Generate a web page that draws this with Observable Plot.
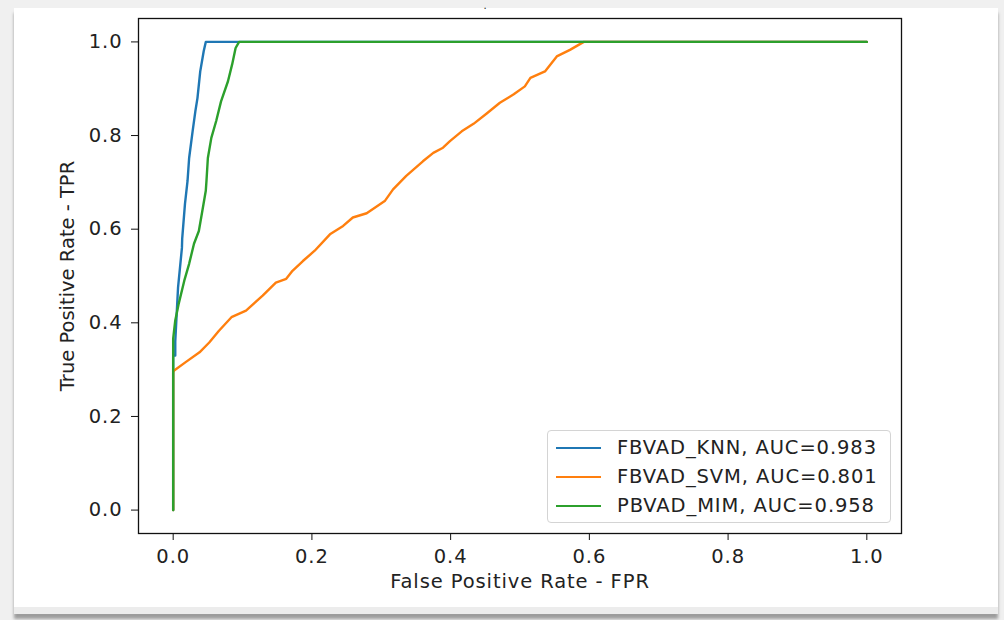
<!DOCTYPE html>
<html>
<head>
<meta charset="utf-8">
<script src="https://cdn.jsdelivr.net/npm/d3@7"></script>
<script src="https://cdn.jsdelivr.net/npm/@observablehq/plot@0.6"></script>
<style>
  html, body { margin: 0; padding: 0; }
  body { width: 1004px; height: 620px; background: #f0f0f0; position: relative; overflow: hidden; font-family: "DejaVu Sans", sans-serif; }
  #shadow { position: absolute; left: 14px; top: 8px; width: 984px; height: 606px; background: #ececec; box-shadow: 0 5px 3px rgba(0,0,0,0.35); }
  #card { position: absolute; left: 14px; top: 8px; width: 984px; height: 599px; background: #fff; }
  #chart { position: absolute; left: 0; top: 0; }
  #title { position: absolute; left: 0; width: 970px; top: 1px; text-align: center; font-size: 10px; line-height: 1; color: #222; }
  #legend { position: absolute; left: 547px; top: 430px; width: 342px; height: 91px; border: 1px solid #d4d4d4; border-radius: 4px; background: rgba(255,255,255,0.85); box-sizing: content-box; }
  .row { position: absolute; left: 0; height: 29px; width: 100%; }
  .sw { position: absolute; left: 8px; width: 45px; height: 2.3px; top: 13.5px; }
  .lt { position: absolute; left: 69px; top: 3px; font-size: 19.5px; letter-spacing: 0.9px; color: #222; line-height: 1.2; white-space: nowrap; }
</style>
</head>
<body>
<div id="shadow"></div>
<div id="card"></div>
<div id="chart"></div>
<div id="title">.</div>
<div id="legend"></div>
<script>
// ---- data ----
const seriesNames = ["FBVAD_KNN, AUC=0.983", "FBVAD_SVM, AUC=0.801", "PBVAD_MIM, AUC=0.958"];
const seriesColors = ["#1f77b4", "#ff7f0e", "#2ca02c"];

const knnFPR = [0, 0, 0.003, 0.003, 0.007, 0.0126, 0.013, 0.017, 0.0207, 0.023, 0.028, 0.032, 0.035, 0.039, 0.044, 0.047, 1];
const knnTPR = [0, 0.33, 0.33, 0.36, 0.475, 0.56, 0.58, 0.654, 0.703, 0.752, 0.809, 0.852, 0.880, 0.937, 0.98, 1.0, 1.0];

const svmFPR = [0, 0, 0.0014, 0.018, 0.038, 0.052, 0.066, 0.084, 0.105, 0.129, 0.148, 0.163, 0.172, 0.187, 0.204, 0.226, 0.245, 0.259, 0.279, 0.305, 0.317, 0.336, 0.360, 0.375, 0.389, 0.399, 0.416, 0.433, 0.452, 0.471, 0.491, 0.507, 0.515, 0.536, 0.553, 0.572, 0.592, 1];
const svmTPR = [0, 0.295, 0.298, 0.316, 0.337, 0.358, 0.383, 0.412, 0.426, 0.458, 0.486, 0.494, 0.511, 0.532, 0.554, 0.589, 0.607, 0.625, 0.634, 0.660, 0.685, 0.714, 0.745, 0.763, 0.774, 0.788, 0.809, 0.825, 0.847, 0.870, 0.888, 0.905, 0.923, 0.937, 0.969, 0.983, 1.0, 1.0];

const mimFPR = [0, 0, 0.003, 0.008, 0.016, 0.023, 0.030, 0.037, 0.042, 0.047, 0.048, 0.050, 0.055, 0.062, 0.069, 0.079, 0.085, 0.090, 0.095, 1];
const mimTPR = [0, 0.366, 0.405, 0.441, 0.49, 0.526, 0.569, 0.596, 0.639, 0.682, 0.703, 0.752, 0.795, 0.831, 0.873, 0.916, 0.952, 0.987, 1.0, 1.0];

const axisTicks = [0, 0.2, 0.4, 0.6, 0.8, 1.0];
const xLabel = "False Positive Rate - FPR";
const yLabel = "True Positive Rate - TPR";

// ---- build tables ----
const toRows = (fpr, tpr, i) => fpr.map((f, j) => ({series: seriesNames[i], fpr: f, tpr: tpr[j]}));
const knnRows = toRows(knnFPR, knnTPR, 0);
const svmRows = toRows(svmFPR, svmTPR, 1);
const mimRows = toRows(mimFPR, mimTPR, 2);

const chart = Plot.plot({
  width: 1004,
  height: 620,
  marginLeft: 138,
  marginRight: 103,
  marginTop: 18,
  marginBottom: 87,
  style: {background: "transparent", fontFamily: "DejaVu Sans", fontSize: "19.5px", color: "#222"},
  x: {domain: [-0.05, 1.05]},
  y: {domain: [-0.05, 1.05]},
  marks: [
    Plot.line(knnRows, {x: "fpr", y: "tpr", stroke: seriesColors[0], strokeWidth: 2.4, strokeLinejoin: "round"}),
    Plot.line(svmRows, {x: "fpr", y: "tpr", stroke: seriesColors[1], strokeWidth: 2.4, strokeLinejoin: "round"}),
    Plot.line(mimRows, {x: "fpr", y: "tpr", stroke: seriesColors[2], strokeWidth: 2.4, strokeLinejoin: "round"}),
    Plot.frame({stroke: "#111", strokeWidth: 1.3}),
    Plot.axisX({ticks: axisTicks, tickFormat: d => d.toFixed(1), tickSize: 7, tickPadding: 9, label: null, stroke: "#111"}),
    Plot.axisY({ticks: axisTicks, tickFormat: d => d.toFixed(1), tickSize: 7, tickPadding: 9, label: null, stroke: "#111"}),
    Plot.text([xLabel], {text: d => d, frameAnchor: "bottom", textAnchor: "middle", lineAnchor: "middle", dy: 48, fontSize: 19.5, fill: "#222"}),
    Plot.text([yLabel], {text: d => d, frameAnchor: "left", textAnchor: "middle", lineAnchor: "middle", dx: -71, rotate: -90, fontSize: 19.5, fill: "#222"})
  ]
});
// matplotlib-like wider horizontal glyph spacing
chart.querySelectorAll("text").forEach(t => {
  const tr = (t.getAttribute("transform") || "");
  if (!tr.includes("rotate")) t.style.letterSpacing = "0.9px";
});
document.getElementById("chart").appendChild(chart);

// ---- legend ----
const legend = document.getElementById("legend");
seriesNames.forEach((name, i) => {
  const row = document.createElement("div");
  row.className = "row";
  row.style.top = (2 + i * 29) + "px";
  const sw = document.createElement("div");
  sw.className = "sw";
  sw.style.background = seriesColors[i];
  const lt = document.createElement("div");
  lt.className = "lt";
  lt.textContent = name;
  row.appendChild(sw);
  row.appendChild(lt);
  legend.appendChild(row);
});
</script>
</body>
</html>
